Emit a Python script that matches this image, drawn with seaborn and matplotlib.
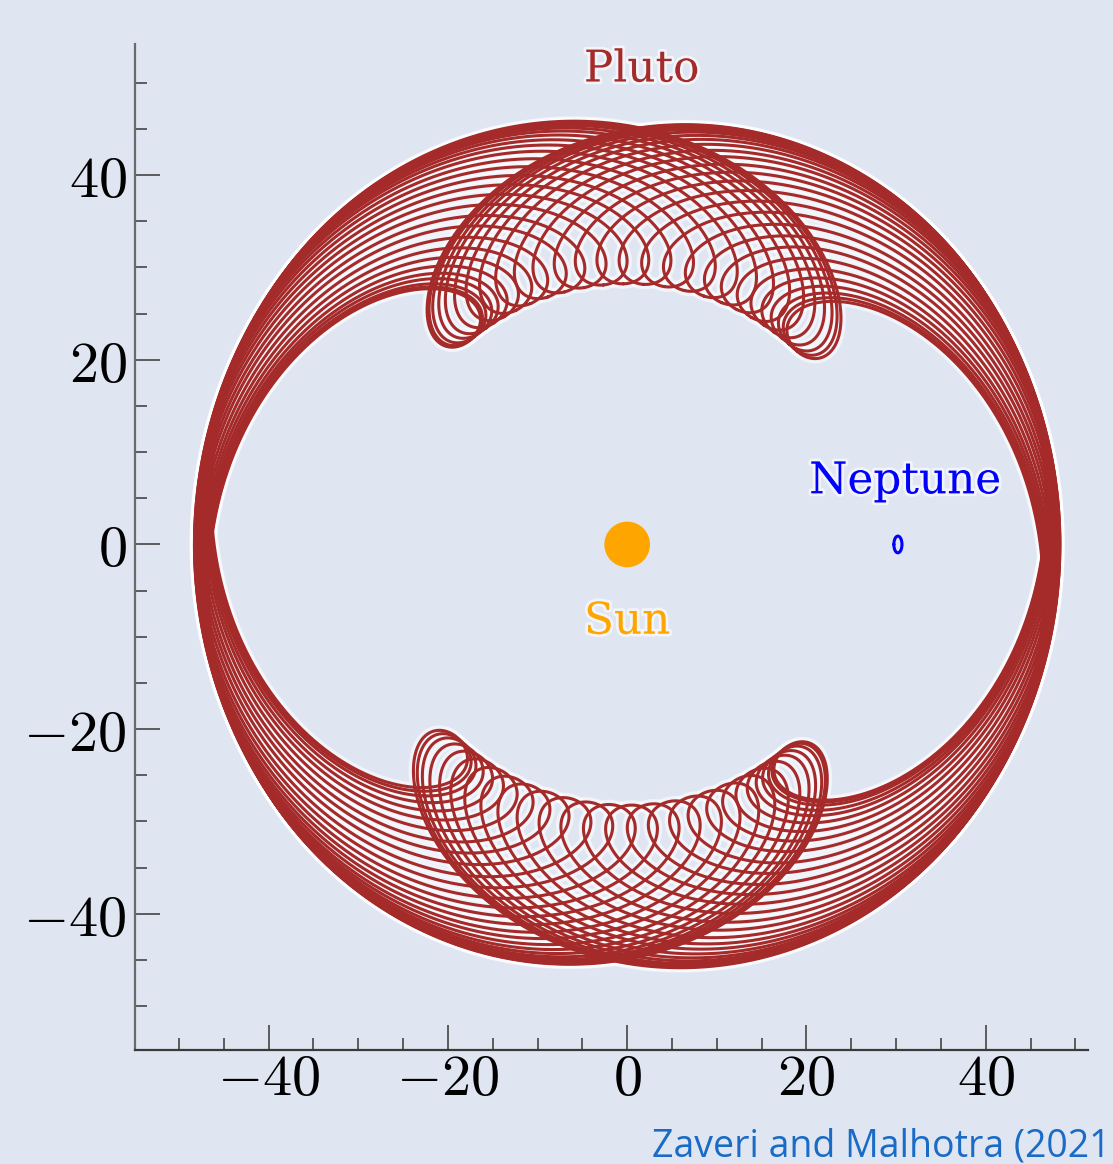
import numpy as np
import pandas as pd
import matplotlib
matplotlib.use("Agg")
import matplotlib.pyplot as plt
import matplotlib.patheffects as pe
from matplotlib.ticker import MultipleLocator, FuncFormatter
import seaborn as sns

# Pluto orbit elements (AU), frame co-rotating with Neptune
pluto_a = 38.25
pluto_e = 0.262
mean_motion_ratio = 1.5  # Neptune / Pluto (3:2 resonance)
# offset of Pluto's perihelion from 90 deg, one entry per drawn cycle (deg)
pluto_offsets = [38.5, 38, 37.1, 35.6, 34, 31.8, 29.1, 26, 22.4, 18.3, 14.3, 9.8, 5.4, 0.9,
                 -3.7, -8.4, -13, -17.7, -21.9, -25.7, -29.4, -32.7, -35.4, -37.8, -39.7, -41, -42]

# Neptune orbit elements
neptune_a = 30.2
neptune_e = 0.015

# labels: text, x, y, colour
label_text = ["Pluto", "Neptune", "Sun"]
label_x = [1.6, 31.0, 0.0]
label_y = [51.5, 6.9, -8.3]
label_color = ["#a52a2a", "blue", "orange"]

credit = "Zaveri and Malhotra (2021"

bg = "#dfe6f2"


def rotating_orbit(a, e, ratio, phi0_deg, n_orbits, npts=3000):
    M = np.linspace(0, 2 * np.pi * n_orbits, npts)
    E = M.copy()
    for _ in range(60):
        E = M + e * np.sin(E)
    xo = a * (np.cos(E) - e)
    yo = a * np.sqrt(1 - e ** 2) * np.sin(E)
    rot = np.radians(phi0_deg) - ratio * M
    x = xo * np.cos(rot) - yo * np.sin(rot)
    y = xo * np.sin(rot) + yo * np.cos(rot)
    return x, y


frames = []
for i, d in enumerate(pluto_offsets):
    x, y = rotating_orbit(pluto_a, pluto_e, mean_motion_ratio, 90 + d, 2)
    frames.append(pd.DataFrame({"x": x, "y": y, "cycle": i}))
pluto = pd.concat(frames, ignore_index=True)

nx, ny = rotating_orbit(neptune_a, neptune_e, 1.0, 0, 1, 400)
neptune = pd.DataFrame({"x": nx, "y": ny, "cycle": 0})

sns.set_theme(style="white")
plt.rcParams["mathtext.fontset"] = "cm"
plt.rcParams["font.family"] = ["DejaVu Serif"]

fig = plt.figure(figsize=(11.13, 11.64), dpi=100, facecolor=bg)
ax = fig.add_axes([135 / 1113, 1 - 1050 / 1164, (1088 - 135) / 1113, (1050 - 44) / 1164])
ax.set_facecolor(bg)

# white halo under the orbit band
sns.lineplot(data=pluto, x="x", y="y", units="cycle", estimator=None, sort=False,
             color="white", lw=7, alpha=0.55, ax=ax, legend=False)
sns.lineplot(data=pluto, x="x", y="y", units="cycle", estimator=None, sort=False,
             color="#a52a2a", lw=2.2, ax=ax, legend=False)
sns.lineplot(data=neptune, x="x", y="y", units="cycle", estimator=None, sort=False,
             color="blue", lw=2.2, ax=ax, legend=False)
sns.scatterplot(x=[0], y=[0], color="orange", s=1080, edgecolor="none", ax=ax,
                legend=False, zorder=5)

for t, x, y, c in zip(label_text, label_x, label_y, label_color):
    ax.text(x, y, t, color=c, fontsize=31.5, family="DejaVu Serif", ha="center",
            va="center", path_effects=[pe.withStroke(linewidth=4, foreground="white", alpha=0.6)])

ax.set_xlim(-54.9, 51.4)
ax.set_ylim(-54.75, 54.2)
ax.set_xlabel("")
ax.set_ylabel("")

ax.xaxis.set_major_locator(MultipleLocator(20))
ax.xaxis.set_minor_locator(MultipleLocator(5))
ax.yaxis.set_major_locator(MultipleLocator(20))
ax.yaxis.set_minor_locator(MultipleLocator(5))
fmt = FuncFormatter(lambda v, p: f"${v:.0f}$")
ax.xaxis.set_major_formatter(fmt)
ax.yaxis.set_major_formatter(fmt)

for s in ["top", "right"]:
    ax.spines[s].set_visible(False)
ax.spines["left"].set_color("#6a6a6a")
ax.spines["bottom"].set_color("#3a3a3a")
for s in ["left", "bottom"]:
    ax.spines[s].set_linewidth(1.6)

ax.tick_params(which="major", direction="in", length=18, width=1.2, color="#444444",
               labelsize=42, labelcolor="black")
ax.tick_params(axis="y", which="major", pad=6)
ax.tick_params(axis="x", which="major", pad=1)
ax.tick_params(which="minor", direction="in", length=8.5, width=1.2, color="#444444")
ax.xaxis.set_ticks_position("bottom")
ax.yaxis.set_ticks_position("left")

fig.text(1111 / 1113, 1 - 1157 / 1164, credit, color="#1a6bc6", fontsize=27,
         family="Open Sans", ha="right", va="baseline")

fig.savefig("out.png", dpi=100, facecolor=bg)
